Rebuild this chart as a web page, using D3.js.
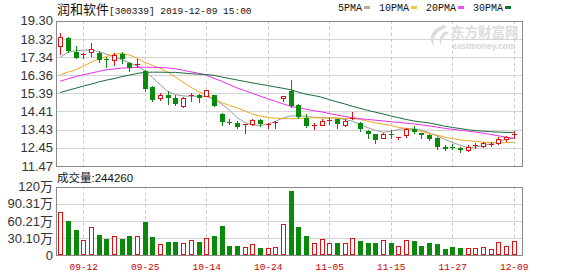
<!DOCTYPE html>
<html>
<head>
<meta charset="utf-8">
<script src="https://cdn.jsdelivr.net/npm/d3@7"></script>
<style>
body { margin: 0; background: #fff; }
svg { display: block; }
</style>
</head>
<body>
<svg id="chart" width="578" height="276"></svg>
<script>
// 润和软件 300339 daily k-line, 2019-09-09 .. 2019-12-09
var dates = ['09-09','09-10','09-11','09-12','09-16','09-17','09-18','09-19','09-20','09-23',
  '09-24','09-25','09-26','09-27','09-30','10-08','10-09','10-10','10-11','10-14',
  '10-15','10-16','10-17','10-18','10-21','10-22','10-23','10-24','10-25','10-28',
  '10-29','10-30','10-31','11-01','11-04','11-05','11-06','11-07','11-08','11-11',
  '11-12','11-13','11-14','11-15','11-18','11-19','11-20','11-21','11-22','11-25',
  '11-26','11-27','11-28','11-29','12-02','12-03','12-04','12-05','12-06','12-09'];

var opens = [17.96,18.36,17.64,17.46,17.62,17.55,17.23,17.20,17.52,17.02,
  16.89,16.57,15.73,15.11,15.32,15.14,14.69,15.23,15.32,15.27,
  15.28,14.25,13.86,13.80,13.66,13.71,13.93,13.67,13.77,15.12,
  15.50,14.78,14.07,13.62,13.68,13.89,13.98,13.68,14.02,13.80,
  13.36,13.18,13.00,13.20,12.96,13.12,13.48,13.23,13.12,13.00,
  12.48,12.47,12.43,12.34,12.54,12.55,12.63,12.73,12.95,13.16];
var highs = [18.63,18.41,17.95,17.59,18.09,17.69,17.37,17.59,17.64,17.10,
  17.23,16.62,15.80,15.41,15.50,15.32,15.18,15.41,15.37,15.59,
  15.32,14.34,13.98,13.89,13.71,13.98,13.98,13.77,13.89,15.22,
  16.12,14.82,14.25,13.77,13.98,14.07,14.02,14.02,14.37,13.86,
  13.39,13.21,13.27,13.39,13.03,13.54,13.62,13.27,13.18,13.05,
  12.59,12.64,12.47,12.59,12.70,12.79,12.77,13.05,13.09,13.36];
var lows = [17.52,17.64,17.27,17.29,17.41,17.07,16.80,16.93,17.05,16.57,
  16.80,15.50,15.00,15.05,14.84,14.78,14.64,14.96,14.93,15.23,
  14.69,13.68,13.71,13.54,13.27,13.68,13.62,13.50,13.54,14.96,
  14.65,14.07,13.57,13.45,13.68,13.75,13.54,13.62,13.98,13.36,
  12.99,12.71,12.96,12.99,12.91,13.05,13.23,12.99,12.87,12.41,
  12.34,12.37,12.23,12.28,12.43,12.52,12.55,12.64,12.82,12.99];
var closes = [18.44,17.69,17.29,17.52,17.78,17.20,17.16,17.46,17.23,16.75,
  16.96,15.63,15.02,15.32,15.11,14.82,15.11,15.32,15.11,15.55,
  14.73,13.86,13.80,13.57,13.71,13.94,13.71,13.71,13.84,15.22,
  14.69,14.10,13.62,13.68,13.89,13.93,13.71,13.89,14.07,13.45,
  13.18,12.86,13.21,13.15,13.03,13.45,13.30,13.16,12.91,12.47,
  12.41,12.43,12.34,12.48,12.59,12.73,12.68,12.95,13.03,13.21];
// volume in 万 shares
var volumes = [75.2,60.0,44.2,26.6,48.9,35.4,28.4,33.1,28.4,33.7,
  33.1,58.2,31.9,19.6,23.1,23.1,21.4,26.6,23.1,29.6,
  33.7,51.2,16.1,16.1,14.4,19.1,12.6,12.6,14.4,54.2,
  112.5,50.0,34.2,21.9,27.9,20.9,21.9,21.9,29.6,24.9,
  21.9,21.9,26.6,21.9,16.1,26.6,24.9,16.1,21.9,19.6,
  10.9,14.4,12.6,12.6,12.6,14.4,10.9,23.1,16.1,24.426];

var ma5 = [17.33,17.60,17.69,17.72,17.73,17.65,17.50,17.36,17.20,17.03,
  16.87,16.61,16.24,15.86,15.48,15.32,15.25,15.23,15.23,15.23,
  15.05,14.81,14.49,14.09,13.82,13.68,13.66,13.72,13.88,14.06,
  14.17,14.17,14.15,14.10,14.07,14.07,14.06,13.98,13.89,13.71,
  13.54,13.40,13.29,13.34,13.44,13.50,13.47,13.40,13.26,13.10,
  12.91,12.75,12.59,12.47,12.49,12.56,12.67,12.78,12.91,13.00];
var ma10 = [16.39,16.53,16.65,16.85,17.06,17.22,17.38,17.49,17.54,17.46,
  17.28,17.06,16.90,16.74,16.53,16.26,15.99,15.72,15.48,15.29,
  15.11,14.89,14.73,14.61,14.44,14.27,14.17,14.09,14.05,14.02,
  14.02,14.04,14.05,14.07,14.07,14.06,14.05,14.04,14.04,13.98,
  13.89,13.79,13.73,13.66,13.55,13.49,13.42,13.32,13.23,13.14,
  13.03,12.95,12.88,12.83,12.80,12.76,12.73,12.72,12.73,12.75];
var ma20 = [16.04,16.17,16.29,16.39,16.48,16.57,16.66,16.70,16.75,16.77,
  16.79,16.80,16.79,16.78,16.76,16.71,16.63,16.55,16.47,16.37,
  16.20,16.04,15.86,15.68,15.54,15.39,15.24,15.09,14.96,14.82,
  14.69,14.61,14.53,14.45,14.39,14.30,14.22,14.14,14.07,14.02,
  13.98,13.94,13.90,13.86,13.82,13.78,13.74,13.69,13.63,13.57,
  13.50,13.45,13.40,13.35,13.30,13.24,13.17,13.10,13.02,12.95];
var ma30 = [15.43,15.55,15.66,15.78,15.88,16.00,16.10,16.18,16.29,16.37,
  16.46,16.52,16.53,16.53,16.52,16.52,16.48,16.45,16.42,16.40,
  16.36,16.27,16.19,16.11,16.03,15.95,15.88,15.81,15.73,15.66,
  15.58,15.45,15.34,15.27,15.18,15.05,14.93,14.82,14.69,14.58,
  14.47,14.37,14.28,14.17,14.08,13.98,13.90,13.84,13.79,13.71,
  13.62,13.55,13.49,13.43,13.38,13.35,13.32,13.30,13.28,13.27];

var priceTicks = [19.30,18.32,17.34,16.36,15.39,14.41,13.43,12.45,11.47];
var volTicks = [0,30.105,60.21,90.315,120.42];
var volTickLabels = ['0','30.10万','60.21万','90.31万','120万'];
var dateTicks = ['09-12','09-25','10-14','10-24','11-05','11-15','11-27','12-09'];
var maNames = ['5PMA','10PMA','20PMA','30PMA'];
var maColors = ['#9a9a9a','#f0a820','#e830e8','#1a6a3a'];
var maSwatch = ['#b0b0b0','#f5c842','#f050f0','#10703a'];

var red = '#e01010', green = '#0a8a0a';

var svg = d3.select('#chart');
var left = 56, right = 523;
var pTop = 20.8, pBottom = 166;
var vTop = 186.5, vBottom = 255.3;

var x = d3.scaleLinear().domain([0, dates.length - 1]).range([60.2, 513.7]);
var y = d3.scaleLinear().domain([11.47, 19.30]).range([pBottom, pTop]);
var yv = d3.scaleLinear().domain([0, 120.42]).range([vBottom, vTop]);

function crisp(v) { return Math.round(v) + 0.5; }

// grid: horizontal
svg.append('g').selectAll('line').data(priceTicks).enter().append('line')
  .attr('x1', left).attr('x2', right)
  .attr('y1', function(d) { return crisp(y(d)); })
  .attr('y2', function(d) { return crisp(y(d)); })
  .attr('stroke', '#d4d4d4');
svg.append('g').selectAll('line').data(volTicks).enter().append('line')
  .attr('x1', left).attr('x2', right)
  .attr('y1', function(d) { return crisp(yv(d)); })
  .attr('y2', function(d) { return crisp(yv(d)); })
  .attr('stroke', '#d4d4d4');

// grid: vertical dashed at date ticks
var tickIdx = dateTicks.map(function(d) { return dates.indexOf(d); });
[[pTop, pBottom], [vTop, vBottom]].forEach(function(r) {
  svg.append('g').selectAll('line').data(tickIdx).enter().append('line')
    .attr('x1', function(i) { return crisp(x(i)); })
    .attr('x2', function(i) { return crisp(x(i)); })
    .attr('y1', r[0]).attr('y2', r[1])
    .attr('stroke', '#c8c8c8').attr('stroke-dasharray', '3,3');
});

// watermark
var wm = svg.append('g');
wm.append('path')
  .attr('d', 'M444,25 C432,29 427,38 434,46 C432,39 435,32 447,27 Z M446,31 C440,34 438,40 441,45 C441,40 443,36 449,33 Z')
  .attr('fill', '#dadada');
wm.append('text').attr('x', 451).attr('y', 37)
  .attr('font-family', 'Noto Sans CJK SC').attr('font-size', 13.5).attr('font-weight', 'bold')
  .attr('fill', '#dcdcdc').text('东方财富网');
wm.append('text').attr('x', 452).attr('y', 49)
  .attr('font-family', 'Liberation Sans').attr('font-size', 8.5).attr('font-weight', 'bold')
  .attr('fill', '#d6d6d6').text('eastmoney.com');

// borders
[[pTop, pBottom], [vTop, vBottom]].forEach(function(r) {
  svg.append('rect')
    .attr('x', left + 0.5).attr('y', crisp(r[0]))
    .attr('width', right - left - 1).attr('height', Math.round(r[1]) - Math.round(r[0]))
    .attr('fill', 'none').attr('stroke', '#8a8a8a');
});

// moving averages
var mas = [ma5, ma10, ma20, ma30];
var line = d3.line().x(function(d, i) { return x(i); }).y(function(d) { return y(d); });
mas.forEach(function(m, k) {
  svg.append('path').datum(m)
    .attr('d', line).attr('fill', 'none')
    .attr('stroke', maColors[k]).attr('stroke-width', 1);
});

// candles
var candles = dates.map(function(d, i) {
  return { i: i, o: opens[i], h: highs[i], l: lows[i], c: closes[i], v: volumes[i] };
});
var cg = svg.append('g');
candles.forEach(function(d) {
  var up = d.c >= d.o;
  var col = up ? red : green;
  var cx = Math.round(x(d.i));
  var top = Math.round(y(Math.max(d.o, d.c)));
  var bot = Math.round(y(Math.min(d.o, d.c)));
  var hy = Math.round(y(d.h)), ly = Math.round(y(d.l));
  if (up) {
    if (bot - top < 2) {
      cg.append('line').attr('x1', cx + 0.5).attr('x2', cx + 0.5).attr('y1', hy).attr('y2', ly + 1).attr('stroke', col);
      cg.append('rect').attr('x', cx - 2).attr('y', top).attr('width', 5).attr('height', Math.max(1, bot - top)).attr('fill', col);
    } else {
      cg.append('line').attr('x1', cx + 0.5).attr('x2', cx + 0.5).attr('y1', hy).attr('y2', top).attr('stroke', col);
      cg.append('line').attr('x1', cx + 0.5).attr('x2', cx + 0.5).attr('y1', bot).attr('y2', ly + 1).attr('stroke', col);
      cg.append('rect').attr('x', cx - 1.5).attr('y', top + 0.5).attr('width', 4).attr('height', bot - top)
        .attr('fill', '#fff').attr('stroke', col);
    }
  } else {
    cg.append('line').attr('x1', cx + 0.5).attr('x2', cx + 0.5).attr('y1', hy).attr('y2', ly + 1).attr('stroke', col);
    cg.append('rect').attr('x', cx - 2).attr('y', top).attr('width', 5).attr('height', Math.max(1, bot - top)).attr('fill', col);
  }
});

// volume bars
var vg = svg.append('g');
candles.forEach(function(d) {
  var up = d.c >= d.o;
  var cx = Math.round(x(d.i));
  var t = Math.round(yv(d.v)), b = Math.round(vBottom);
  if (up) {
    vg.append('rect').attr('x', cx - 1.5).attr('y', t + 0.5).attr('width', 4).attr('height', b - t - 1)
      .attr('fill', '#fff').attr('stroke', red);
  } else {
    vg.append('rect').attr('x', cx - 2).attr('y', t).attr('width', 5).attr('height', b - t).attr('fill', green);
  }
});

// axis labels
var yAxis = d3.axisLeft(y).tickValues(priceTicks).tickSize(0).tickPadding(3)
  .tickFormat(d3.format('.2f'));
var ya = svg.append('g').attr('transform', 'translate(' + left + ',0)').call(yAxis);
ya.select('.domain').remove();
ya.selectAll('text').attr('font-family', 'Liberation Sans, Arial').attr('font-size', 13).attr('fill', '#333');

var vAxis = d3.axisLeft(yv).tickValues(volTicks).tickSize(0).tickPadding(3)
  .tickFormat(function(d, i) { return volTickLabels[i]; });
var va = svg.append('g').attr('transform', 'translate(' + left + ',0)').call(vAxis);
va.select('.domain').remove();
va.selectAll('text').attr('font-family', 'Liberation Sans, Noto Sans CJK SC').attr('font-size', 13).attr('fill', '#333');

var xAxis = d3.axisBottom(x).tickValues(tickIdx).tickSize(0).tickPadding(0)
  .tickFormat(function(i) { return dates[i]; });
var xa = svg.append('g').attr('transform', 'translate(0,' + 261 + ')').call(xAxis);
xa.select('.domain').remove();
xa.selectAll('text').attr('font-family', 'Liberation Mono, DejaVu Sans Mono').attr('font-size', 9.5)
  .attr('fill', '#cc0000').attr('dy', '0.9em');

// title
var title = svg.append('text').attr('x', 57).attr('y', 14).attr('fill', '#111');
title.append('tspan').attr('font-family', 'Noto Sans CJK SC').attr('font-size', 13).text('润和软件');
title.append('tspan').attr('font-family', 'Liberation Mono').attr('font-size', 9.5).text('[300339] 2019-12-09 15:00');

// legend
var lx = 338;
maNames.forEach(function(n, k) {
  var t = svg.append('text').attr('x', lx).attr('y', 11)
    .attr('font-family', 'Liberation Mono').attr('font-size', 10).attr('fill', '#111').text(n);
  var w = t.node().getComputedTextLength();
  svg.append('rect').attr('x', lx + w + 2).attr('y', 6).attr('width', 6).attr('height', 3).attr('fill', maSwatch[k]);
  lx += w + 2 + 6 + 9;
});

// volume title
var vt = svg.append('text').attr('x', 57).attr('y', 182).attr('fill', '#111');
vt.append('tspan').attr('font-family', 'Noto Sans CJK SC').attr('font-size', 11.5).text('成交量');
vt.append('tspan').attr('font-family', 'Liberation Sans').attr('font-size', 11.5)
  .text(':' + Math.round(volumes[volumes.length - 1] * 10000));
</script>
</body>
</html>
